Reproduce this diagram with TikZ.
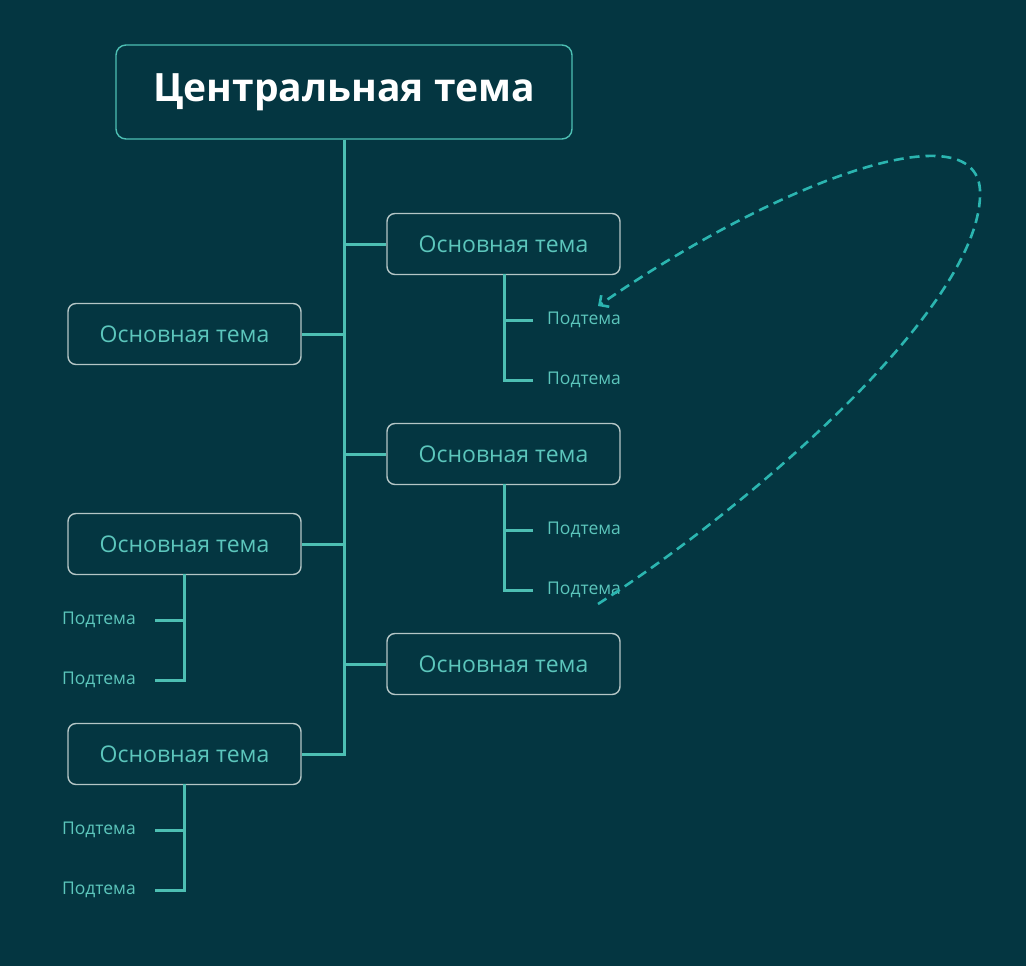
\documentclass[tikz,border=0pt]{standalone}
\usepackage{fontspec}
\setmainfont{Open Sans}
\usetikzlibrary{arrows.meta}
\definecolor{bg}{HTML}{043641}
\definecolor{teal}{HTML}{4DBFB3}
\definecolor{tealtxt}{HTML}{5CC6BC}
\definecolor{gborder}{HTML}{B5C6C6}
\definecolor{dashc}{HTML}{2BB5B0}
\begin{document}
\begin{tikzpicture}[x=1pt,y=-1pt,
 main/.style={draw=gborder,line width=1.4pt,rounded corners=8pt,minimum width=233pt,minimum height=61pt,text=tealtxt,font=\fontsize{23}{26}\selectfont},
 sub/.style={text=tealtxt,font=\fontsize{17.5}{20}\selectfont,inner sep=0pt},
 ln/.style={draw=teal,line width=3pt}]
\fill[bg] (0,0) rectangle (1026,966);
\useasboundingbox (0,0) rectangle (1026,966);
\node[draw=teal,line width=1.4pt,rounded corners=10pt,minimum width=456pt,minimum height=94pt,text=white,font=\bfseries\fontsize{39}{44}\selectfont] (c) at (344,92) {Центральная тема};
\node[main] (r1) at (503.5,244) {Основная тема};
\node[main] (r2) at (503.5,454) {Основная тема};
\node[main] (r3) at (503.5,664) {Основная тема};
\node[main] (l1) at (184.5,334) {Основная тема};
\node[main] (l2) at (184.5,544) {Основная тема};
\node[main] (l3) at (184.5,754) {Основная тема};
\coordinate (sp) at (344,754);
\draw[ln] (c.south) -- (sp) -- (l3.east);
\foreach \n in {r1,r2,r3} \draw[ln] (\n.west) -- (\n.west -| sp);
\foreach \n in {l1,l2} \draw[ln] (\n.east) -- (\n.east -| sp);
% right subtopics
\node[sub,anchor=west] (s1) at (547,320) {Подтема};
\node[sub,anchor=west] (s2) at (547,380) {Подтема};
\node[sub,anchor=west] (s3) at (547,530) {Подтема};
\node[sub,anchor=west] (s4) at (547,590) {Подтема};
\draw[ln] (504,274) -- (504,380) -- (533,380); \draw[ln] (504,320) -- (533,320);
\draw[ln] (504,484) -- (504,590) -- (533,590); \draw[ln] (504,530) -- (533,530);
% left subtopics
\node[sub,anchor=east] (t1) at (136,620) {Подтема};
\node[sub,anchor=east] (t2) at (136,680) {Подтема};
\node[sub,anchor=east] (t3) at (136,830) {Подтема};
\node[sub,anchor=east] (t4) at (136,890) {Подтема};
\draw[ln] (184,574) -- (184,680) -- (155,680); \draw[ln] (184,620) -- (155,620);
\draw[ln] (184,784) -- (184,890) -- (155,890); \draw[ln] (184,830) -- (155,830);
% dashed loop
\coordinate (d0) at (598,604);
\coordinate (d1) at (980,190);
\coordinate (d2) at (598,306);
\draw[draw=dashc,line width=2.6pt,dash pattern=on 10pt off 6pt,-{Straight Barb[length=7pt,width=14pt]}]
 (d0) .. controls (760,500) and (985,300) .. (d1) .. controls (975,110) and (780,180) .. (d2);
\end{tikzpicture}
\end{document}
